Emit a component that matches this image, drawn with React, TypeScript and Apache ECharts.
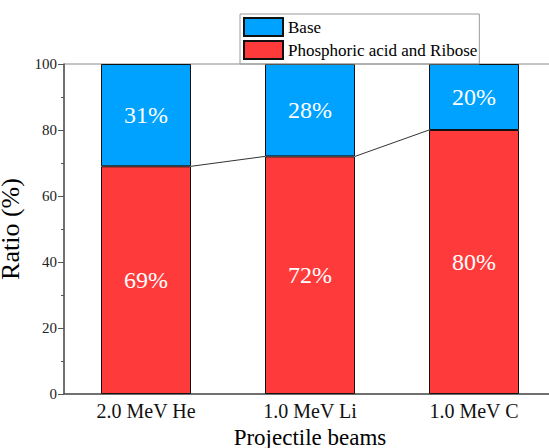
import React, { useEffect, useRef } from "react";
import * as echarts from "echarts";

const categories = ["2.0 MeV He", "1.0 MeV Li", "1.0 MeV C"];
const phosphoricRibose = [69, 72, 80];
const base = [31, 28, 20];
const yTicks = [0, 20, 40, 60, 80, 100];

const SERIF = "'Liberation Serif', 'Times New Roman', serif";
const BAR_WIDTH = 90;

export default function App() {
  const ref = useRef<HTMLDivElement>(null);

  useEffect(() => {
    if (!ref.current) return;
    const chart = echarts.init(ref.current, undefined, { renderer: "svg" });

    const segLabel = {
      show: true,
      position: "inside",
      color: "#ffffff",
      fontFamily: SERIF,
      fontSize: 24,
      formatter: (p: any) => `${p.value}%`,
    };

    chart.setOption({
      animation: false,
      backgroundColor: "#ffffff",
      textStyle: { fontFamily: SERIF },
      grid: {
        left: 64,
        top: 64,
        bottom: 54,
        right: -7,
        outerBoundsMode: "none",
        containLabel: false,
        show: true,
        borderColor: "#8a8a8a",
        borderWidth: 1,
        backgroundColor: "transparent",
      },
      legend: {
        data: ["Base", "Phosphoric acid and Ribose"],
        orient: "vertical",
        left: 240,
        top: 14,
        icon: "rect",
        itemWidth: 39,
        itemHeight: 18,
        itemGap: 3,
        itemTextGap: 5,
        padding: [3, 2, 4, 3],
        borderColor: "#9a9a9a",
        borderWidth: 1,
        textStyle: { fontFamily: SERIF, fontSize: 17, color: "#000" },
      },
      xAxis: {
        type: "category",
        data: categories,
        name: "Projectile beams",
        nameLocation: "middle",
        nameGap: 29,
        nameTextStyle: { fontFamily: SERIF, fontSize: 23, color: "#000" },
        axisLine: { lineStyle: { color: "#555", width: 1.5 } },
        axisTick: { show: false },
        axisLabel: { fontFamily: SERIF, fontSize: 20, color: "#111", margin: 7 },
      },
      yAxis: {
        type: "value",
        min: 0,
        max: 100,
        interval: 20,
        name: "Ratio (%)",
        nameLocation: "middle",
        nameGap: 28,
        nameTextStyle: { fontFamily: SERIF, fontSize: 26, color: "#000" },
        axisLine: { show: true, lineStyle: { color: "#555", width: 1.5 } },
        axisTick: { show: true, inside: false, length: 6, lineStyle: { color: "#555" } },
        minorTick: { show: true, splitNumber: 2, length: 3, lineStyle: { color: "#555" } },
        splitLine: { show: false },
        axisLabel: {
          fontFamily: SERIF,
          fontSize: 15,
          color: "#222",
          margin: 7,
          formatter: (v: number) => (yTicks.includes(v) ? String(v) : ""),
        },
      },
      series: [
        {
          name: "Phosphoric acid and Ribose",
          type: "bar",
          stack: "ratio",
          barWidth: BAR_WIDTH,
          data: phosphoricRibose,
          itemStyle: { color: "#ff3a3a", borderColor: "#111", borderWidth: 1 },
          label: segLabel,
          z: 2,
        },
        {
          name: "Base",
          type: "bar",
          stack: "ratio",
          barWidth: BAR_WIDTH,
          data: base,
          itemStyle: { color: "#00a2ff", borderColor: "#111", borderWidth: 1 },
          label: segLabel,
          z: 2,
        },
        {
          // connectors between the tops of neighbouring red segments
          type: "custom",
          name: "connector",
          silent: true,
          z: 3,
          data: phosphoricRibose.slice(0, -1).map((v, i) => [i, v]),
          renderItem: (params: any, api: any) => {
            const i = params.dataIndex;
            const a = api.coord([i, phosphoricRibose[i]]);
            const b = api.coord([i + 1, phosphoricRibose[i + 1]]);
            return {
              type: "line",
              shape: {
                x1: a[0] + BAR_WIDTH / 2,
                y1: a[1],
                x2: b[0] - BAR_WIDTH / 2,
                y2: b[1],
              },
              style: { stroke: "#333", lineWidth: 1 },
            };
          },
        },
      ],
    });

    return () => chart.dispose();
  }, []);

  return (
    <div
      ref={ref}
      style={{ position: "fixed", left: 0, top: 0, width: 549, height: 448 }}
    />
  );
}
